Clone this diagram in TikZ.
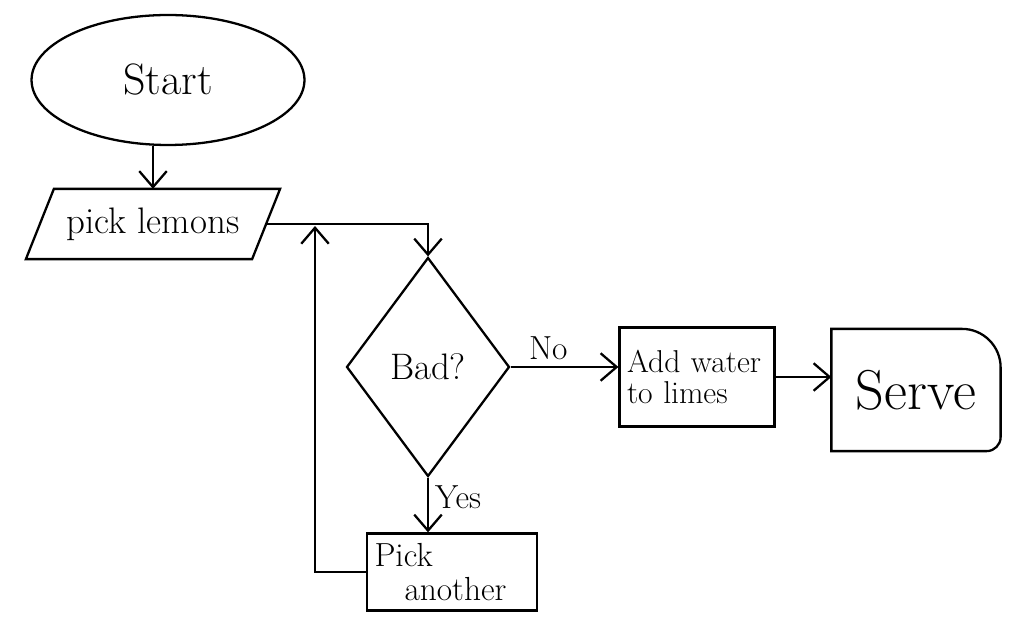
\documentclass[tikz,border=0pt]{standalone}
\usepackage{tikz}
\usetikzlibrary{arrows.meta,positioning,shapes.geometric}

\begin{document}
\begin{tikzpicture}[
      x=0.02cm, y=-0.02cm,
      line width=1.3pt,
      shapebox/.style={draw, line width=1.3pt, inner sep=2pt, align=center},
      txt/.style={font=\fontsize{#1}{#1}\selectfont},
      arr/.style={-{Straight Barb[length=3.2mm, width=5.5mm]}, line width=1.3pt},
      lbl/.style={font=\fontsize{19}{19}\selectfont},
    ]
    \useasboundingbox (0,0) rectangle (1011,631);

    % Nodes
    \node[shapebox, ellipse, minimum width=5.46cm, minimum height=2.6cm,
          txt=25] (start) at (168,80) {Start};
    \node[rectangle, minimum width=4.48cm, minimum height=1.36cm,
          txt=21] (lemons) at (153,224) {pick lemons};
    \node[shapebox, diamond, aspect=0.75, minimum width=3.26cm, minimum height=4.38cm,
          inner sep=0pt, txt=21] (bad) at (428,367) {Bad?};
    \node[shapebox, rectangle, minimum width=3.1cm, minimum height=1.98cm,
          txt=18, text width=2.8cm, align=left] (add) at (697,377) {Add water\\ to limes};
    \node[rectangle, minimum width=3.34cm, minimum height=2.4cm,
          txt=32] (serve) at (916,390) {Serve};
    \node[shapebox, rectangle, minimum width=3.4cm, minimum height=1.54cm,
          txt=19, text width=3.1cm, align=left] (another) at (452,572) {Pick\\ \hspace*{0.6cm}another};
    \coordinate (loopend) at (315,226);

    % Slanted outline for pick lemons
    \draw ([xshift=0.28cm]lemons.north west) -- ([xshift=0.28cm]lemons.north east)
      -- ([xshift=-0.28cm]lemons.south east) -- ([xshift=-0.28cm]lemons.south west) -- cycle;
    % Serve outline with rounded corner
    \draw (serve.south west) -- (serve.north west) [rounded corners=22pt] -- (serve.north east)
      [rounded corners=8pt] -- (serve.south east) [sharp corners] -- cycle;

    % Connectors
    \draw[arr] (lemons.north |- start.south) -- (lemons.north);
    \draw[arr] (lemons.east) -| (bad.north);
    \draw[arr] (bad.east) -- node[lbl, above, pos=0.35] {No} (bad.east -| add.west);
    \draw[arr] (add.east) -- (add.east -| serve.west);
    \draw[arr] (bad.south) -- node[lbl, right, pos=0.35] {Yes} (bad.south |- another.north);
    \draw[arr] (another.west) -| (loopend);
  \end{tikzpicture}
\end{document}
